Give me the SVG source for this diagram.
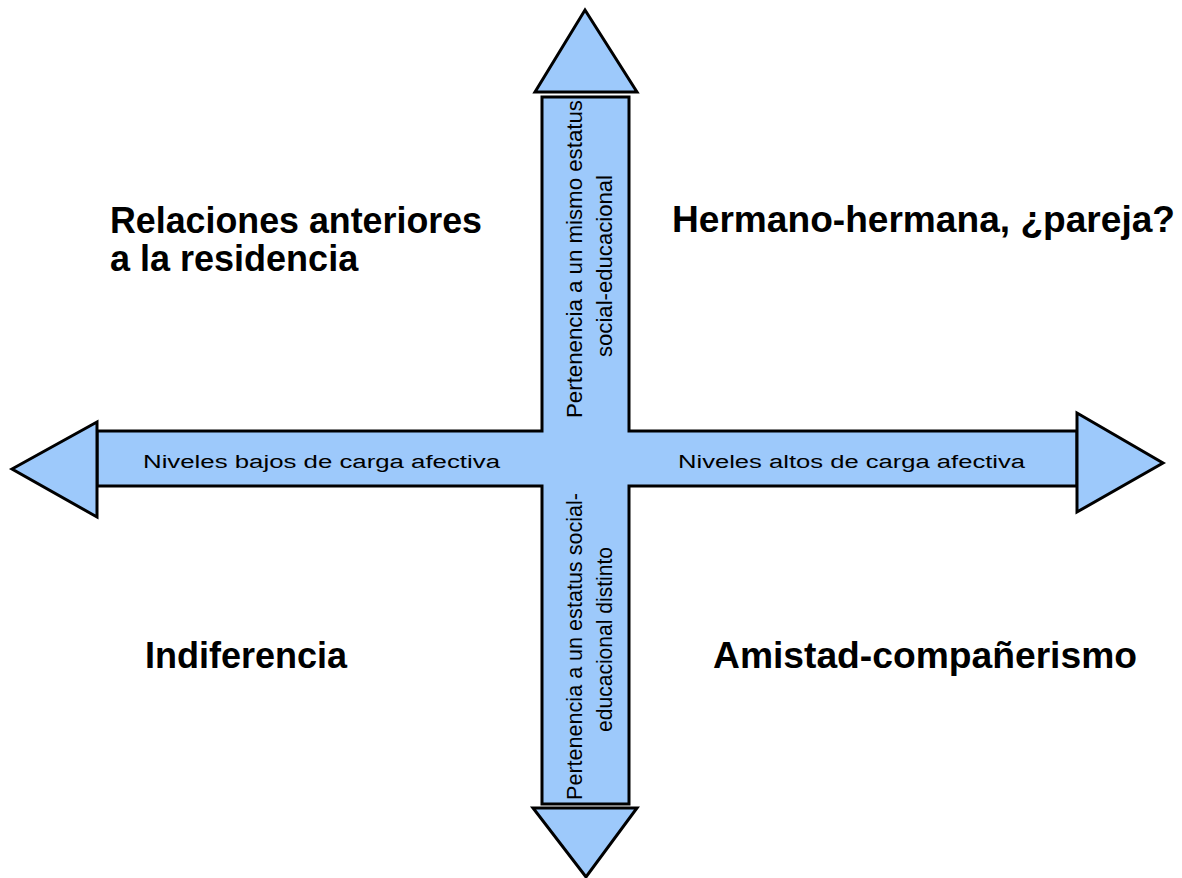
<svg xmlns="http://www.w3.org/2000/svg" width="1182" height="878" viewBox="0 0 1182 878">
<style>
.shape{fill:#9dc9fb;stroke:#000;stroke-width:3;stroke-linejoin:miter}
.big{font-family:"Liberation Sans",Arial,sans-serif;font-weight:bold;font-size:36px;fill:#000}
.small{font-family:"Liberation Sans",Arial,sans-serif;font-size:18px;fill:#000}
.vert{font-family:"Liberation Sans",Arial,sans-serif;font-size:22px;fill:#000}
</style>
<rect width="1182" height="878" fill="#fff"/>
<g id="connectors">
<polygon id="cross" class="shape" points="542,97 629,97 629,431 1077,431 1077,486 629,486 629,804 542,804 542,486 97,486 97,431 542,431"/>
<polygon id="arrow-up" class="shape" points="585,10 637,92 535,92"/>
<polygon id="arrow-down" class="shape" points="533,808 637,808 586,877"/>
<polygon id="arrow-left" class="shape" points="12,469 97,422 97,517"/>
<polygon id="arrow-right" class="shape" points="1077,413 1163,463 1077,512"/>
</g>
<g id="axis-labels">
<text class="small" x="143" y="468" textLength="357" lengthAdjust="spacingAndGlyphs">Niveles bajos de carga afectiva</text>
<text class="small" x="678" y="468" textLength="347" lengthAdjust="spacingAndGlyphs">Niveles altos de carga afectiva</text>
<text class="vert" transform="translate(582,418) rotate(-90)" textLength="318" lengthAdjust="spacingAndGlyphs">Pertenencia a un mismo estatus</text>
<text class="vert" transform="translate(612,357) rotate(-90)" textLength="182" lengthAdjust="spacingAndGlyphs">social-educacional</text>
<text class="vert" transform="translate(582,800) rotate(-90)" textLength="307" lengthAdjust="spacingAndGlyphs">Pertenencia a un estatus social-</text>
<text class="vert" transform="translate(612,732) rotate(-90)" textLength="185" lengthAdjust="spacingAndGlyphs">educacional distinto</text>
</g>
<g id="node-top-left">
<text class="big" x="110" y="233" textLength="372" lengthAdjust="spacingAndGlyphs">Relaciones anteriores</text>
<text class="big" x="110" y="271">a la residencia</text>
</g>
<g id="node-top-right">
<text class="big" x="672" y="232" textLength="503" lengthAdjust="spacingAndGlyphs">Hermano-hermana, ¿pareja?</text>
</g>
<g id="node-bottom-left">
<text class="big" x="145" y="668" textLength="202" lengthAdjust="spacingAndGlyphs">Indiferencia</text>
</g>
<g id="node-bottom-right">
<text class="big" x="713" y="668" textLength="424" lengthAdjust="spacingAndGlyphs">Amistad-compañerismo</text>
</g>
</svg>
